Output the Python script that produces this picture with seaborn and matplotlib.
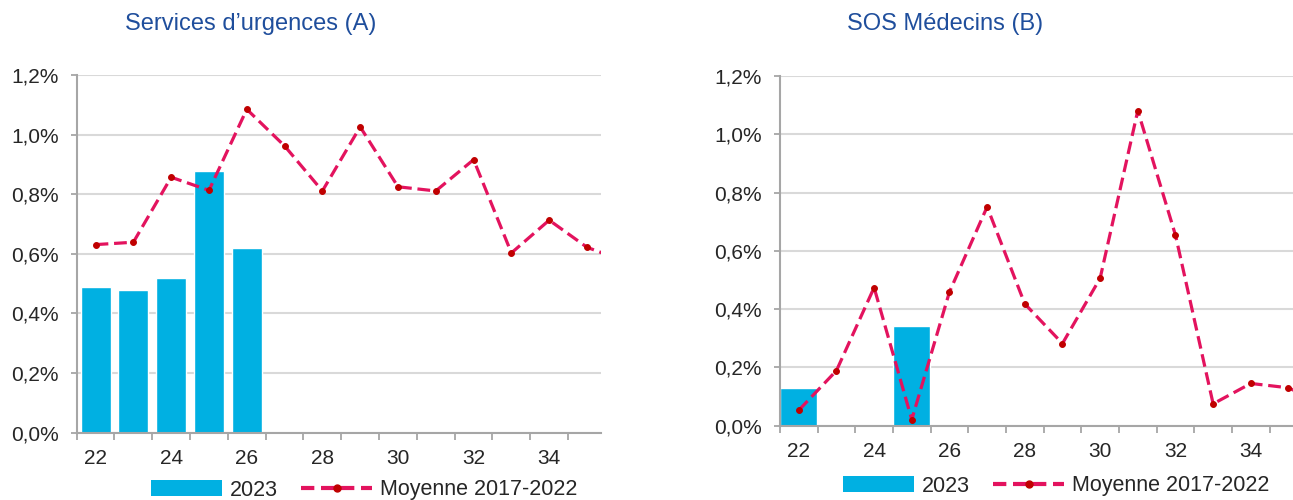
import numpy as np
import pandas as pd
import matplotlib
matplotlib.use("Agg")
import matplotlib.pyplot as plt
from matplotlib.patches import Patch
from matplotlib.lines import Line2D
from matplotlib.ticker import FuncFormatter, FixedLocator
import seaborn as sns

# semaines et valeurs (%)
weeks = list(range(22, 37))
urg_2023 = [0.488, 0.479, 0.518, 0.879, 0.619]
urg_moy = [0.631, 0.639, 0.857, 0.813, 1.085, 0.962, 0.811, 1.026,
           0.825, 0.811, 0.916, 0.603, 0.713, 0.622, 0.575]
sos_2023 = [0.131, np.nan, np.nan, 0.342]
sos_moy = [0.053, 0.189, 0.474, 0.021, 0.459, 0.751, 0.418, 0.282,
           0.506, 1.081, 0.654, 0.075, 0.145, 0.130, 0.070]

titles = ["Services d\u2019urgences (A)", "SOS M\u00e9decins (B)"]
label_bar = "2023"
label_line = "Moyenne 2017-2022"

bar_color = "#00B0E2"
line_color = "#E3135E"
marker_color = "#C00000"
title_color = "#1F4E9C"
grid_color = "#D9D9D9"
spine_color = "#A6A6A6"

sns.set_style("white")
plt.rcParams["font.family"] = ["Liberation Sans", "DejaVu Sans"]

fig = plt.figure(figsize=(12.93, 5), dpi=100)
ax_a = fig.add_axes([0.0593, 0.1346, 0.4055, 0.7154])
ax_b = fig.add_axes([0.6032, 0.1486, 0.3968, 0.6994])

pct = FuncFormatter(lambda v, p: f"{v:.1f}%".replace(".", ","))


def draw_panel(ax, bars, moy, bar_width, xmax):
    bar_df = pd.DataFrame({"week": weeks[:len(bars)], "val": bars}).dropna()
    sns.barplot(data=bar_df, x="week", y="val", order=weeks, color=bar_color,
                saturation=1, width=bar_width, ax=ax, zorder=2)
    line_df = pd.DataFrame({"pos": np.arange(len(moy)), "val": moy})
    sns.lineplot(data=line_df, x="pos", y="val", ax=ax, color=line_color,
                 linewidth=2.3, linestyle=(0, (4, 1.8)), marker="o",
                 markersize=4.2, markerfacecolor=marker_color,
                 markeredgecolor=marker_color, zorder=3)
    ax.set_xlim(-0.5, xmax)
    ax.set_ylim(0, 1.2)
    ax.set_yticks(np.arange(0, 1.21, 0.2))
    ax.yaxis.set_major_formatter(pct)
    ax.yaxis.grid(True, color=grid_color, linewidth=1.5, zorder=0)
    ax.set_axisbelow(True)
    ax.xaxis.set_major_locator(FixedLocator(np.arange(0, len(weeks), 2)))
    ax.set_xticklabels([str(w) for w in weeks[::2]])
    ax.xaxis.set_minor_locator(FixedLocator(np.arange(len(weeks) + 1) - 0.5))
    ax.tick_params(axis="x", which="major", length=0, pad=12, labelsize=15)
    ax.tick_params(axis="x", which="minor", length=5, width=1.3,
                   color=spine_color, direction="out", bottom=True)
    ax.tick_params(axis="y", length=4, width=1.3, color=spine_color,
                   pad=9, labelsize=15, left=True)
    for s in ["top", "right"]:
        ax.spines[s].set_visible(False)
    for s in ["left", "bottom"]:
        ax.spines[s].set_color(spine_color)
        ax.spines[s].set_linewidth(1.5)
    ax.set_xlabel("")
    ax.set_ylabel("")
    if ax.get_legend():
        ax.get_legend().remove()


draw_panel(ax_a, urg_2023, urg_moy, 0.79, 13.37)
draw_panel(ax_b, sos_2023, sos_moy, 0.98, 13.12)

fig.text(0.1941, 0.952, titles[0], ha="center", va="center",
         fontsize=17, color=title_color)
fig.text(0.7309, 0.952, titles[1], ha="center", va="center",
         fontsize=17, color=title_color)

handles = [Patch(facecolor=bar_color, edgecolor="none"),
           Line2D([], [], color=line_color, linewidth=3, linestyle=(0, (3.2, 1.6)),
                  marker="o", markersize=5, markerfacecolor=marker_color,
                  markeredgecolor=marker_color)]
for cx, cy in [(364 / 1293, 1 - 490 / 500), (1056 / 1293, 1 - 486 / 500)]:
    fig.legend(handles, [label_bar, label_line], loc="center",
               bbox_to_anchor=(cx, cy), ncol=2, frameon=False, fontsize=15.5,
               handlelength=3.3, handletextpad=0.35, columnspacing=1.1,
               borderaxespad=0, borderpad=0)

fig.savefig("out.png", dpi=100)
